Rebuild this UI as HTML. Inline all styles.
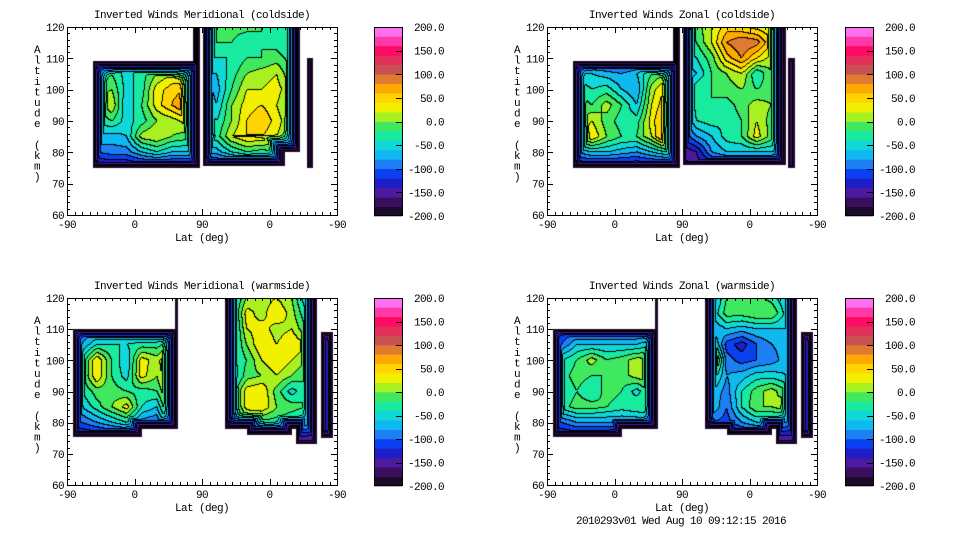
<!DOCTYPE html>
<html><head><meta charset="utf-8">
<style>
html,body{margin:0;padding:0;background:#fff;}
#root{position:relative;width:960px;height:540px;overflow:hidden;background:#fff;font-family:"Liberation Mono",monospace;}
canvas{position:absolute;}
svg{position:absolute;left:0;top:0;}
</style></head>
<body>
<div id="root"></div>
<script>
// ---- data ----
const uCols = [0,20,40,60,80,100,120,140,160,180,200,220,240,260,280,300,320,340,360];
const altRows = [120,115,110,105,100,95,90,85,80,75];
const xTickLabels = ["-90","0","90","0","-90"];
const xTickU = [0,90,180,270,360];
const yTickVals = [60,70,80,90,100,110,120];
const cbTickVals = [-200,-150,-100,-50,0,50,100,150,200];
const bandColors = ["#1c0a2c","#3a0e5e","#4c1aa0","#1e1ec8","#0a40f0","#1c80f4","#10b8f0","#10d8d8","#18eaa0","#40e860","#a8f020","#f0f000","#ffd400","#ffa800","#e07a30","#c85050","#e0305a","#ff0a64","#ff3aa8","#ff70f0"];
const merCold = [
[-40,-40,-40,-40,-40,-40,-40,-40,-40,-20,-20,-10,-10,-20,-30,-40,-60,-60,-60],
[-40,-40,-40,-40,-40,-40,-40,-40,-40,-30,-20,-20,-40,-20,-30,-40,-60,-60,-60],
[-40,-40,-40,-40,-40,-30,-20,-10,-20,-40,-40,-40,-20,-20,-10,-30,-60,-60,-60],
[-30,-30,-30,-20,-50,-30,0,20,10,-60,-60,-30,0,10,20,-20,-60,-60,-60],
[-10,-10,-10,0,-50,-30,30,50,60,-40,-70,-20,20,20,30,0,-60,-60,-60],
[-20,-20,-20,20,-60,-20,30,60,90,-20,-60,0,30,40,20,-10,-60,-60,-60],
[-40,-40,-40,-20,-50,-30,0,10,30,-20,-40,0,40,60,30,0,-60,-60,-60],
[-60,-60,-60,-70,-60,10,20,0,-10,-30,-30,20,40,40,20,0,-60,-60,-60],
[-100,-100,-100,-90,-90,-60,-40,-60,-60,-70,-70,-40,-20,-30,-20,-40,-80,-80,-80],
[-150,-150,-150,-150,-150,-150,-150,-150,-150,-150,-150,-150,-150,-150,-150,-150,-150,-150,-150]];
const zonCold = [
[-40,-40,-40,-40,-40,-40,-40,-40,-40,-20,-10,20,50,40,30,20,-40,-40,-40],
[-40,-40,-40,-40,-40,-40,-40,-40,-40,-30,-20,20,80,100,90,40,-40,-40,-40],
[-140,-140,-140,-140,-140,-140,-140,-140,-140,-60,-40,-10,50,80,40,10,-40,-40,-40],
[-60,-60,-60,-60,-70,-80,-60,-20,0,-80,-60,-20,0,20,-40,0,-40,-40,-40],
[-20,-20,-20,-40,-30,-60,-80,10,50,-100,-20,-20,-10,0,-20,-10,-40,-40,-40],
[0,0,0,-20,10,-20,-60,20,60,-100,-30,-20,-30,-10,10,0,-40,-40,-40],
[-10,-10,-10,20,-10,-30,-30,30,80,-100,-40,-30,-40,-20,20,-10,-40,-40,-40],
[0,0,0,40,0,-20,-20,20,90,-120,-80,-60,-30,-20,30,-10,-40,-40,-40],
[-80,-80,-80,-60,-60,-70,-80,-60,-40,-160,-140,-80,-60,-60,-60,-60,-80,-80,-80],
[-150,-150,-150,-150,-150,-150,-150,-150,-150,-150,-150,-150,-150,-150,-150,-150,-150,-150,-150]];
const merWarm = [
[-60,-60,-60,-60,-60,-60,-60,-60,-60,-60,-60,-60,0,10,20,0,-60,-60,-60],
[-60,-60,-60,-60,-60,-60,-60,-60,-60,-60,-60,-60,30,10,40,10,-40,-40,-40],
[-100,-100,-100,-100,-100,-100,-100,-100,-100,-70,-70,-70,20,30,10,20,-20,-80,-80],
[-80,-80,-40,-40,-40,-30,-30,0,0,-60,-60,-60,0,40,20,40,20,-80,-80],
[-40,-40,40,-20,-60,30,10,60,60,-50,-50,-50,-20,20,40,20,0,-80,-80],
[-30,-30,40,-20,-50,30,0,60,60,-60,-60,-60,-10,0,20,0,-20,-80,-80],
[-40,-40,-10,-10,-20,-30,-20,40,40,-40,-40,-40,30,40,-10,-50,-20,-80,-80],
[-60,-60,-30,0,30,-40,-60,30,30,-50,-50,-50,30,40,0,-10,-20,-60,-60],
[-100,-100,-80,-60,-40,-90,-100,-20,-20,-80,-80,-80,-20,-30,-30,-40,-60,-100,-100],
[-150,-150,-150,-150,-150,-150,-150,-150,-150,-150,-150,-150,-150,-150,-150,-150,-150,-150,-150]];
const zonWarm = [
[-80,-80,-80,-80,-80,-80,-80,-80,-80,-80,-80,-80,-20,-20,-10,-30,-60,-60,-60],
[-60,-60,-60,-60,-60,-60,-60,-60,-60,-60,-60,-60,-10,-10,0,0,-50,-50,-50],
[-120,-120,-120,-120,-120,-120,-120,-120,-120,-80,-80,-80,-60,-70,-60,-60,-60,-100,-100],
[-100,-100,-60,-60,-60,-60,-60,-40,-40,-20,-20,-20,-110,-130,-100,-80,-70,-100,-100],
[-40,-40,-20,10,-20,-10,10,0,0,60,60,60,-90,-110,-100,-90,-70,-100,-100],
[-30,-30,-10,-20,-20,-10,10,20,20,-20,-20,-20,-80,-70,-50,-50,-60,-100,-100],
[-40,-40,-20,-40,-10,-20,-50,-10,-10,-60,-60,-60,-90,-40,-10,10,-20,-100,-100],
[-30,-30,-10,-10,-20,-30,-20,-20,-20,-60,-60,-60,-100,-40,0,0,20,-100,-100],
[-100,-100,-80,-80,-80,-80,-80,-60,-60,-100,-100,-100,-110,-80,-60,-60,-80,-120,-120],
[-150,-150,-150,-150,-150,-150,-150,-150,-150,-150,-150,-150,-150,-150,-150,-150,-150,-150,-150]];
const maskCold1 = [[35,177,75,109],[168,177,100,200],[181,311,80,200],[181,290,75.5,90],[320,328,75,110]];
const maskCold2 = [[35,177,75,109],[168,177,100,200],[181,318,76,200],[322,330,75,110]];
const maskWarm = [[8,148,78,110],[8,100,75.5,90],[144,148,100,200],[211,333,78,200],[240,300,76,90],[305,333,73,90],[339,355,75,109]];

const panels = [
 {name:"meridional-coldside",title:"Inverted Winds Meridional (coldside)",px:67,py:27,w:270,h:188,cbx:374,grid:merCold,mask:maskCold1},
 {name:"zonal-coldside",title:"Inverted Winds Zonal (coldside)",px:547,py:27,w:270,h:188,cbx:845,grid:zonCold,mask:maskCold2},
 {name:"meridional-warmside",title:"Inverted Winds Meridional (warmside)",px:67,py:298,w:270,h:187,cbx:374,grid:merWarm,mask:maskWarm},
 {name:"zonal-warmside",title:"Inverted Winds Zonal (warmside)",px:547,py:298,w:270,h:187,cbx:845,grid:zonWarm,mask:maskWarm}
];

const root=document.getElementById('root');
const NS="http://www.w3.org/2000/svg";
const svg=document.createElementNS(NS,'svg');
svg.setAttribute('width','960');svg.setAttribute('height','540');
root.appendChild(svg);
function el(tag,attrs,parent){const e=document.createElementNS(NS,tag);for(const k in attrs)e.setAttribute(k,attrs[k]);(parent||svg).appendChild(e);return e;}
function txt(s,x,y,anchor,parent){const t=el('text',{x:x,y:y,'text-anchor':anchor||'start','font-family':'Liberation Mono, monospace','font-size':'11','letter-spacing':'-0.6',fill:'#000'},parent);t.textContent=s;return t;}
function hexToRgb(h){return [parseInt(h.substr(1,2),16),parseInt(h.substr(3,2),16),parseInt(h.substr(5,2),16)];}
const rgbBands=bandColors.map(hexToRgb);

function sample(grid,u,alt){
  let ci=Math.max(0,Math.min(uCols.length-1.0001,u/20));
  let ri=Math.max(0,Math.min(altRows.length-1.0001,(120-alt)/5));
  const c0=Math.floor(ci),r0=Math.floor(ri),fc=ci-c0,fr=ri-r0;
  const a=grid[r0][c0],b=grid[r0][c0+1],c=grid[r0+1][c0],d=grid[r0+1][c0+1];
  return (a*(1-fc)+b*fc)*(1-fr)+(c*(1-fc)+d*fc)*fr;
}

panels.forEach(p=>{
  const xs=p.w/360, ys=p.h/60;
  const xScale=u=>p.px+u*xs, yScale=a=>p.py+(120-a)*ys;
  const g=el('g',{});
  
  
  const cv=document.createElement('canvas');
  cv.width=p.w;cv.height=p.h;cv.style.left=p.px+'px';cv.style.top=p.py+'px';
  
  
  root.insertBefore(cv,svg);
  const ctx=cv.getContext('2d');
  const img=ctx.createImageData(p.w,p.h);
  const band=new Int16Array(p.w*p.h).fill(-1);
  for(let j=0;j<p.h;j++){for(let i=0;i<p.w;i++){
    const u=(i+0.5)/xs, a=120-(j+0.5)/ys;
    let d=-1;
    p.mask.forEach(r=>{ if(u>=r[0]&&u<=r[1]&&a>=r[2]&&a<=r[3]){
      const dx=Math.max(0.01,Math.min(u-r[0],r[1]-u)*xs), dy=Math.max(0.01,Math.min(a-r[2],r[3]-a)*ys);
      const dd=Math.pow(Math.pow(dx,-4)+Math.pow(dy,-4),-0.25); if(dd>d)d=dd;}});
    if(d<0)continue;
    let v=sample(p.grid,u,a);
    v=Math.min(v,-205+14*d);
    let b=Math.floor((v+200)/20); b=Math.max(0,Math.min(19,b));
    band[j*p.w+i]=b;
  }}
  for(let j=0;j<p.h;j++){for(let i=0;i<p.w;i++){
    const k=j*p.w+i,b=band[k]; const o=k*4;
    if(b<0){img.data[o]=255;img.data[o+1]=255;img.data[o+2]=255;img.data[o+3]=255;continue;}
    let line=false;
    if(i+1<p.w&&band[k+1]>=0&&band[k+1]!==b)line=true;
    if(j+1<p.h&&band[k+p.w]>=0&&band[k+p.w]!==b)line=true;
    const c=line?[0,0,0]:rgbBands[b];
    img.data[o]=c[0];img.data[o+1]=c[1];img.data[o+2]=c[2];img.data[o+3]=255;
  }}
  ctx.putImageData(img,0,0);
  const fr=el('rect',{x:p.px+0.5,y:p.py+0.5,width:p.w,height:p.h,fill:'none',stroke:'#000','stroke-width':1},g);
  
  
  for(let u=0;u<=360;u+=10){
    const x=Math.round(xScale(u))+0.5, major=(u%90===0), L=major?6:3;
    el('line',{x1:x,y1:p.py+p.h,x2:x,y2:p.py+p.h-L,stroke:'#000'},g);
    el('line',{x1:x,y1:p.py,x2:x,y2:p.py+L,stroke:'#000'},g);
  }
  xTickU.forEach((u,i)=>{const t=txt(xTickLabels[i],xScale(u),p.py+p.h+13,'middle',g);
    
    });
  for(let a=60;a<=120;a+=2){
    const y=Math.round(yScale(a))+0.5, major=(a%10===0), L=major?6:3;
    el('line',{x1:p.px,y1:y,x2:p.px+L,y2:y,stroke:'#000'},g);
    el('line',{x1:p.px+p.w,y1:y,x2:p.px+p.w-L,y2:y,stroke:'#000'},g);
  }
  yTickVals.forEach(a=>{const t=txt(String(a),p.px-3,yScale(a)+4,'end',g);
    
    });
  const tt=txt(p.title,p.px+p.w/2,p.py-9,'middle',g);
  
  
  const xt=txt('Lat (deg)',p.px+p.w/2,p.py+p.h+26,'middle',g);
  
  
  const yt=el('g',{},g);
  
  
  const ystr='Altitude (km)';
  for(let i=0;i<ystr.length;i++){ if(ystr[i]===' ')continue; txt(ystr[i],p.px-30,p.py+26+i*10.6,'middle',yt); }
  const cb=el('g',{},g);
  
  
  const cbH=p.h+1, cbTop=p.py, bh=cbH/bandColors.length;
  const cbY=v=>cbTop+(200-v)/400*cbH;
  bandColors.forEach((c,i)=>{
    const lo=-200+i*20;
    const r=el('rect',{x:p.cbx,y:cbY(lo+20),width:28,height:bh+0.3,fill:c},cb);
    
    
  });
  el('rect',{x:p.cbx+0.5,y:cbTop+0.5,width:28,height:cbH-1,fill:'none',stroke:'#000'},cb);
  cbTickVals.forEach(v=>{
    const y=Math.round(cbY(v))+0.5;
    if(v>-200&&v<200) el('line',{x1:p.cbx+22,y1:y,x2:p.cbx+28,y2:y,stroke:'#000'},cb);
    const t=txt(v.toFixed(1),p.cbx+70,cbY(v)+4,'end',cb);
    
    
  });
});
const foot=txt('2010293v01 Wed Aug 10 09:12:15 2016',681,524,'middle');


</script>
</body></html>
